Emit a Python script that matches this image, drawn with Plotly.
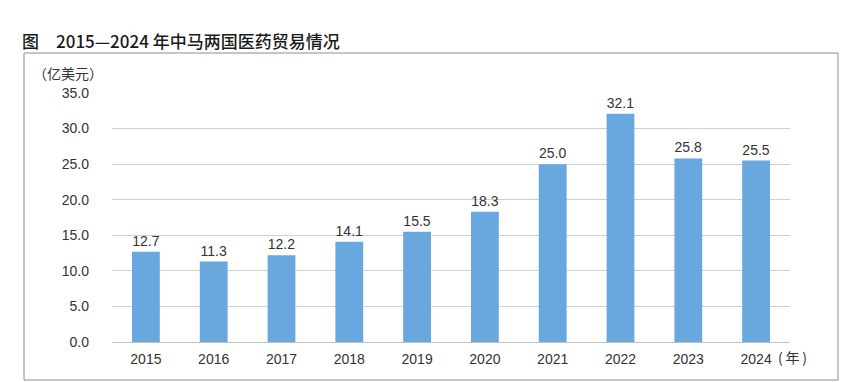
import plotly.graph_objects as go

years = ["2015", "2016", "2017", "2018", "2019", "2020", "2021", "2022", "2023", "2024"]
values = [12.7, 11.3, 12.2, 14.1, 15.5, 18.3, 25.0, 32.1, 25.8, 25.5]
y_ticks = [0, 5, 10, 15, 20, 25, 30, 35]

FONT = "Liberation Sans, Noto Sans CJK SC, sans-serif"
CJK = "Noto Sans CJK SC, sans-serif"
W, H = 850, 382
L, R, T, B = 112, 60, 93, 40
pw, ph = W - L - R, H - T - B

def px(x):
    return (x - L) / pw

def py(y):
    return (H - B - y) / ph

fig = go.Figure(go.Bar(
    x=years, y=values,
    marker=dict(color="#68a8de", line=dict(width=0)),
    width=0.41,
    text=[f"{v:.1f}" for v in values],
    textposition="outside",
    textfont=dict(size=14, color="#333333", family=FONT),
    cliponaxis=False,
))

fig.update_layout(
    width=W, height=H,
    margin=dict(l=L, r=R, t=T, b=B),
    plot_bgcolor="white", paper_bgcolor="white",
    showlegend=False,
    font=dict(family=FONT, size=14, color="#333333"),
    xaxis=dict(type="category", showgrid=False, showline=True, linecolor="#bfbfbf",
               linewidth=1, ticks="", tickfont=dict(size=14, color="#333333"),
               ticklabelstandoff=4),
    yaxis=dict(range=[0, 35], tickvals=y_ticks, ticktext=[f"{v:.1f}" for v in y_ticks],
               showgrid=True, gridcolor="#d0d0d0", gridwidth=1, zeroline=False,
               showline=False, ticks="", tickfont=dict(size=14, color="#333333"),
               ticklabelstandoff=22),
    shapes=[dict(type="rect", xref="paper", yref="paper",
                 x0=px(24), x1=px(838), y0=py(380), y1=py(53),
                 line=dict(color="#8c8c8c", width=1), layer="below")],
    annotations=[
        dict(text="图　2015—2024 年中马两国医药贸易情况", xref="paper", yref="paper",
             x=px(20), y=py(40), xanchor="left", yanchor="middle", showarrow=False,
             font=dict(size=17, color="#1a1a1a", family=CJK, weight=500)),
        dict(text="（亿美元）", xref="paper", yref="paper",
             x=px(31), y=py(73), xanchor="left", yanchor="middle", showarrow=False,
             font=dict(size=14, color="#333333", family=CJK)),
        dict(text="(\u2009年\u2009)", xref="paper", yref="paper",
             x=px(776), y=py(357), xanchor="left", yanchor="middle", showarrow=False,
             font=dict(size=14, color="#333333", family=CJK)),
    ],
)

fig.write_html("out.html", config={"displayModeBar": False},
               post_script="document.body.style.margin='0px';document.body.style.overflow='hidden';")
